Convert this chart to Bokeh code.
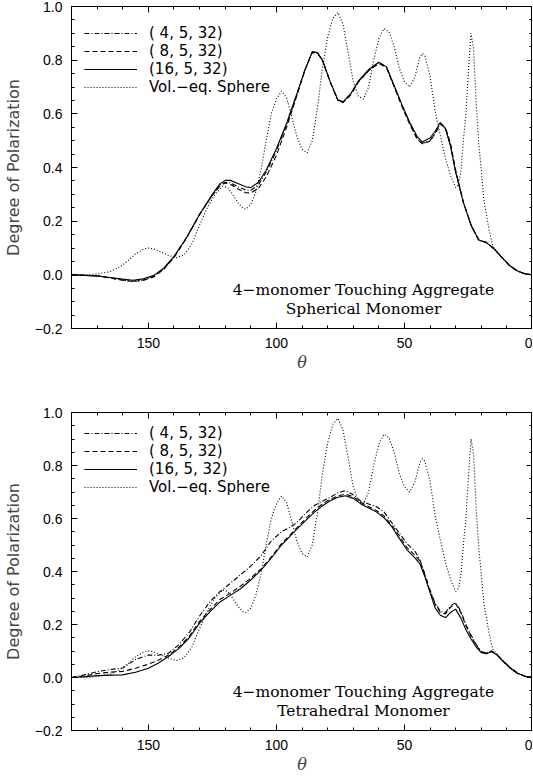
from bokeh.plotting import figure
from bokeh.models import Range1d, FixedTicker, LinearAxis, Legend, LegendItem, Label
from bokeh.layouts import column
from bokeh.embed import file_html
from bokeh.resources import INLINE

# ---------------- data ----------------
theta_top = [180, 170, 165, 160, 156, 152, 148, 144, 140, 135, 130, 125, 122, 120, 118, 115, 112, 110, 107, 104,
             100, 96, 92, 89, 86, 84, 82, 79, 76, 74, 71, 68, 64, 60, 57, 54, 51, 48, 45, 43,
             40, 38, 36, 34, 32, 30, 27, 24, 21, 18, 15, 12, 9, 6, 3, 0]
p4_top = [0, -0.004, -0.011, -0.019, -0.024, -0.019, -0.006, 0.022, 0.066, 0.140, 0.226, 0.298, 0.335, 0.345, 0.343,
          0.328, 0.316, 0.315, 0.335, 0.382, 0.462, 0.560, 0.672, 0.760, 0.828, 0.826, 0.800, 0.720, 0.652, 0.643,
          0.672, 0.720, 0.762, 0.790, 0.775, 0.703, 0.632, 0.567, 0.508, 0.490, 0.500, 0.530, 0.565, 0.545, 0.480,
          0.383, 0.270, 0.185, 0.130, 0.120, 0.097, 0.065, 0.035, 0.015, 0.004, 0]
p8_top = [0, -0.004, -0.012, -0.020, -0.025, -0.021, -0.008, 0.020, 0.064, 0.138, 0.224, 0.296, 0.332, 0.342, 0.338,
          0.320, 0.306, 0.305, 0.322, 0.365, 0.445, 0.550, 0.668, 0.758, 0.830, 0.828, 0.798, 0.718, 0.650, 0.642,
          0.670, 0.718, 0.760, 0.788, 0.772, 0.700, 0.628, 0.562, 0.505, 0.488, 0.498, 0.527, 0.560, 0.550, 0.490,
          0.390, 0.272, 0.186, 0.131, 0.121, 0.097, 0.065, 0.035, 0.015, 0.004, 0]
p16_top = [0, -0.004, -0.010, -0.016, -0.020, -0.015, -0.003, 0.025, 0.068, 0.140, 0.225, 0.300, 0.340, 0.352, 0.352,
           0.340, 0.328, 0.325, 0.345, 0.390, 0.470, 0.565, 0.675, 0.760, 0.832, 0.828, 0.800, 0.720, 0.652, 0.645,
           0.675, 0.722, 0.765, 0.792, 0.775, 0.705, 0.635, 0.570, 0.515, 0.495, 0.510, 0.535, 0.568, 0.545, 0.480,
           0.383, 0.270, 0.185, 0.130, 0.120, 0.097, 0.065, 0.035, 0.015, 0.004, 0]

theta_bot = [180, 175, 170, 165, 160, 155, 150, 146, 142, 138, 134, 130, 126, 122, 118, 114, 110, 106, 102, 98,
             95, 92, 88, 85, 82, 79, 76, 73, 70, 67, 64, 61, 58, 55, 52, 49, 46, 44, 42, 40,
             38, 36, 34, 32, 30, 28, 26, 24, 22, 20, 18, 16, 14, 12, 9, 6, 3, 0]
p4_bot = [0, 0.010, 0.022, 0.030, 0.036, 0.068, 0.085, 0.084, 0.092, 0.125,
          0.170, 0.232, 0.285, 0.325, 0.355, 0.388, 0.420, 0.460, 0.515, 0.550,
          0.565, 0.585, 0.625, 0.650, 0.665, 0.680, 0.697, 0.705, 0.690, 0.665,
          0.655, 0.645, 0.625, 0.585, 0.545, 0.505, 0.478, 0.445, 0.390, 0.330,
          0.280, 0.250, 0.245, 0.270, 0.283, 0.250, 0.200, 0.160, 0.125, 0.097,
          0.093, 0.100, 0.088, 0.068, 0.040, 0.018, 0.005, 0]
p8_bot = [0, 0.006, 0.015, 0.020, 0.023, 0.035, 0.050, 0.066, 0.085, 0.115,
          0.155, 0.212, 0.255, 0.295, 0.318, 0.345, 0.375, 0.410, 0.455, 0.505,
          0.535, 0.565, 0.605, 0.632, 0.655, 0.673, 0.685, 0.692, 0.682, 0.660,
          0.645, 0.630, 0.610, 0.575, 0.535, 0.490, 0.462, 0.440, 0.385, 0.325,
          0.275, 0.245, 0.240, 0.265, 0.278, 0.245, 0.195, 0.155, 0.122, 0.096,
          0.092, 0.099, 0.087, 0.067, 0.039, 0.017, 0.005, 0]
p16_bot = [0, 0.003, 0.007, 0.009, 0.010, 0.020, 0.035, 0.055, 0.080, 0.110,
           0.150, 0.205, 0.248, 0.285, 0.310, 0.335, 0.368, 0.405, 0.450, 0.500,
           0.530, 0.560, 0.598, 0.625, 0.648, 0.667, 0.680, 0.686, 0.676, 0.655,
           0.640, 0.625, 0.603, 0.570, 0.525, 0.482, 0.452, 0.430, 0.380, 0.320,
           0.262, 0.235, 0.226, 0.245, 0.258, 0.225, 0.180, 0.145, 0.115, 0.094,
           0.090, 0.097, 0.086, 0.066, 0.038, 0.017, 0.005, 0]

theta_sph = [180, 175, 170, 165, 161, 158, 155, 152, 150, 148, 145, 142, 139, 136, 133, 130, 127, 124, 121, 119,
             117, 115, 113, 112, 110, 108, 106, 104, 102, 100, 98, 96, 94, 92, 90, 88, 86, 84, 82, 80,
             78, 76, 74, 72, 70, 68, 66, 64, 62, 60, 58, 56, 54, 52, 50, 48, 46, 44, 43, 42,
             40, 38, 36, 34, 32, 30, 29, 28, 27, 26, 25, 24, 23, 22, 21, 20, 19, 17, 15.5, 12,
             9, 6, 3, 0]
p_sph = [0, 0, 0.003, 0.012, 0.030, 0.052, 0.078, 0.095, 0.100, 0.097, 0.085, 0.072, 0.064, 0.075, 0.115, 0.185,
         0.250, 0.300, 0.330, 0.325, 0.298, 0.268, 0.248, 0.245, 0.262, 0.310, 0.390, 0.500, 0.600, 0.655,
         0.685, 0.660, 0.590, 0.515, 0.468, 0.455, 0.500, 0.620, 0.770, 0.885, 0.955, 0.978, 0.935, 0.830,
         0.720, 0.665, 0.655, 0.700, 0.800, 0.880, 0.918, 0.905, 0.850, 0.770, 0.720, 0.700, 0.735, 0.810,
         0.825, 0.815, 0.740, 0.610, 0.520, 0.435, 0.370, 0.325, 0.335, 0.380, 0.500, 0.600, 0.760, 0.900,
         0.840, 0.640, 0.490, 0.390, 0.280, 0.170, 0.107, 0.066, 0.036, 0.015, 0.004, 0]

series_labels = ["( 4, 5, 32)", "( 8, 5, 32)", "(16, 5, 32)", "Vol.\u2212eq. Sphere"]
x_ticks = [0, 50, 100, 150]
x_minor = [0, 10, 20, 30, 40, 50, 60, 70, 80, 90, 100, 110, 120, 130, 140, 150, 160, 170, 180]
y_ticks = [-0.2, 0.0, 0.2, 0.4, 0.6, 0.8, 1.0]
y_tick_labels = ["\u22120.2", "0.0", "0.2", "0.4", "0.6", "0.8", "1.0"]
y_minor = [-0.2, -0.15, -0.1, -0.05, 0.0, 0.05, 0.1, 0.15, 0.2, 0.25, 0.3, 0.35, 0.4, 0.45, 0.5, 0.55,
           0.6, 0.65, 0.7, 0.75, 0.8, 0.85, 0.9, 0.95, 1.0]
notes_top = ["4\u2212monomer Touching Aggregate", "Spherical Monomer"]
notes_bot = ["4\u2212monomer Touching Aggregate", "Tetrahedral Monomer"]

DASHES = ["5 2 1 2", "5 3", "solid", "1 2"]
TICK_FONT = "Liberation Sans"


def style_axis(ax, show_labels):
    ax.axis_line_color = "black"
    ax.axis_line_width = 1
    ax.major_tick_in = 6
    ax.major_tick_out = 0
    ax.minor_tick_in = 3
    ax.minor_tick_out = 0
    ax.major_tick_line_color = "black"
    ax.minor_tick_line_color = "black"
    if show_labels:
        ax.major_label_text_font = TICK_FONT
        ax.major_label_text_font_size = "14px"
        ax.major_label_text_color = "black"
    else:
        ax.major_label_text_color = None
        ax.major_label_standoff = 0


def panel(frame_h, top_border, bottom_border, data, notes, legend_top):
    p = figure(frame_width=461, frame_height=frame_h,
               x_range=Range1d(180, 0), y_range=Range1d(-0.2, 1.0),
               output_backend="svg", toolbar_location=None,
               min_border_left=66, min_border_right=0, min_border_top=top_border,
               min_border_bottom=bottom_border)
    p.xgrid.visible = False
    p.ygrid.visible = False
    p.outline_line_color = "black"
    p.outline_line_width = 1
    p.background_fill_color = "white"
    p.border_fill_color = "white"

    xt = FixedTicker(ticks=x_ticks, minor_ticks=x_minor)
    yt = FixedTicker(ticks=y_ticks, minor_ticks=y_minor)

    p.xaxis.ticker = xt
    p.yaxis.ticker = yt
    for ax in p.xaxis:
        style_axis(ax, True)
        ax.major_label_standoff = 9
        ax.axis_label = "\u03b8"
        ax.axis_label_text_font = "DejaVu Serif"
        ax.axis_label_text_font_style = "italic"
        ax.axis_label_text_font_size = "16px"
        ax.axis_label_standoff = 2
    for ax in p.yaxis:
        style_axis(ax, True)
        ax.major_label_standoff = 9
        ax.major_label_overrides = {t: s for t, s in zip(y_ticks, y_tick_labels)}
        ax.axis_label = "Degree of Polarization"
        ax.axis_label_text_font = "DejaVu Sans"
        ax.axis_label_text_font_style = "normal"
        ax.axis_label_text_font_size = "16px"
        ax.axis_label_standoff = 9

    top_ax = LinearAxis(ticker=xt)
    style_axis(top_ax, False)
    p.add_layout(top_ax, "above")
    right_ax = LinearAxis(ticker=yt)
    style_axis(right_ax, False)
    p.add_layout(right_ax, "right")

    renderers = []
    for (th, vals), dash in zip(data, DASHES):
        r = p.line(th, vals, line_color="black", line_width=1.1, line_dash=dash)
        renderers.append(r)

    items = [LegendItem(label=lab, renderers=[r]) for lab, r in zip(series_labels, renderers)]
    leg = Legend(items=items, location=(13, frame_h - legend_top - 4 * 18),
                 margin=0, padding=0, spacing=0,
                 glyph_width=53, glyph_height=18, label_height=18, label_standoff=12,
                 label_text_font="DejaVu Sans", label_text_font_size="15px",
                 label_text_color="black",
                 border_line_alpha=0, background_fill_alpha=0)
    p.add_layout(leg)

    for txt, y in zip(notes, [-0.056, -0.126]):
        p.add_layout(Label(x=66, y=y, text=txt, text_align="center", text_baseline="middle",
                           text_font="DejaVu Serif", text_font_size="15.5px", text_color="black"))
    return p


top = panel(322, 6, 55,
            [(theta_top, p4_top), (theta_top, p8_top), (theta_top, p16_top), (theta_sph, p_sph)],
            notes_top, 18)
bot = panel(318, 29, 44,
            [(theta_bot, p4_bot), (theta_bot, p8_bot), (theta_bot, p16_bot), (theta_sph, p_sph)],
            notes_bot, 12)

layout = column(top, bot, spacing=0)
open("out.html", "w").write(file_html(layout, INLINE))
